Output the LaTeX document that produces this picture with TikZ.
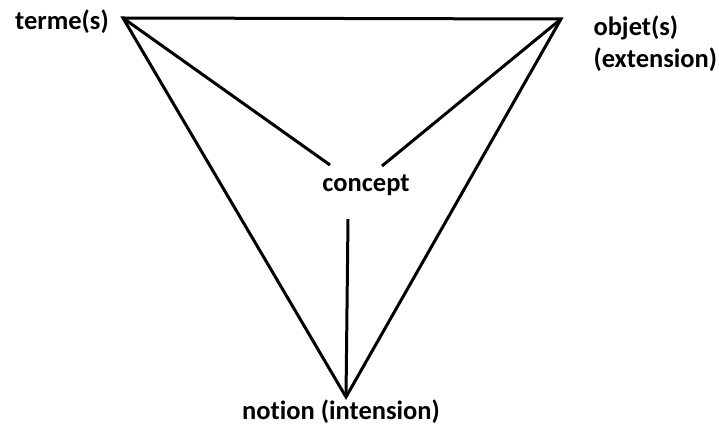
\documentclass[tikz,border=0pt]{standalone}
\usepackage{fontspec}
\setmainfont{Carlito}[RawFeature=-liga]
\usepackage{tikz}
\usetikzlibrary{positioning}

\begin{document}
\begin{tikzpicture}[x=1pt, y=-1pt, line width=3pt,
  lbl/.style={font=\fontsize{26.5}{32}\selectfont\bfseries, align=left, inner sep=0pt}]

  \useasboundingbox (0,0) rectangle (719,427);

  % corners of the triangle
  \coordinate (terme) at (123,18);
  \coordinate (objet) at (561,19);
  \coordinate (notion) at (346,397);

  % inner ends, near concept
  \coordinate (cterme) at (330,165);
  \coordinate (cobjet) at (382,166);
  \coordinate (cnotion) at (348,219);

  % labels
  \node[lbl] (lterme) at (62,22) {terme(s)};
  \node[lbl, anchor=west] (lobjet) at (592,44) {objet(s)\\(extension)};
  \node[lbl] (lconcept) at (366,185) {concept};
  \node[lbl] (lnotion) at (341,412) {notion (intension)};

  % triangle
  \draw[line join=miter] (terme) -- (objet) -- (notion) -- cycle;

  % lines towards concept
  \draw (terme) -- (cterme);
  \draw (objet) -- (cobjet);
  \draw (notion) -- (cnotion);

\end{tikzpicture}
\end{document}
